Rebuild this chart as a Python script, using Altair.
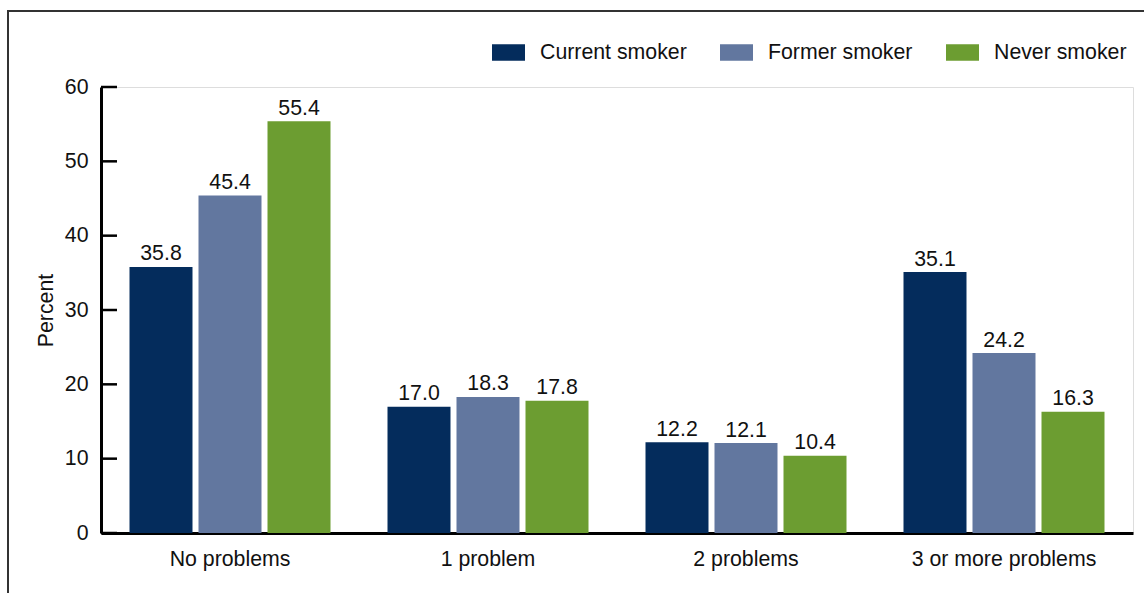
import altair as alt
import pandas as pd

categories = ["No problems", "1 problem", "2 problems", "3 or more problems"]
series = ["Current smoker", "Former smoker", "Never smoker"]
current = [35.8, 17.0, 12.2, 35.1]
former = [45.4, 18.3, 12.1, 24.2]
never = [55.4, 17.8, 10.4, 16.3]
colors = ["#042c5c", "#62779f", "#6c9d31"]
y_ticks = [0, 10, 20, 30, 40, 50, 60]

rows = []
for s, vals in zip(series, [current, former, never]):
    for c, v in zip(categories, vals):
        rows.append({"category": c, "series": s, "value": v, "label": f"{v:.1f}"})
df = pd.DataFrame(rows)
ticks_df = pd.DataFrame({"value": y_ticks})
frame_df = pd.DataFrame({"a": [0]})

FONT = "Liberation Sans"
FS = 21.3

x = alt.X(
    "category:N",
    sort=categories,
    scale=alt.Scale(paddingInner=0, paddingOuter=0),
    axis=alt.Axis(
        title=None, labelAngle=0, ticks=False, domainWidth=3, domainColor="black",
        labelFontSize=FS, labelPadding=15, labelColor="#111", labelFont=FONT,
        labelLimit=0,
    ),
)
xo = alt.XOffset(
    "series:N", sort=series, scale=alt.Scale(paddingInner=0.087, paddingOuter=0.413)
)
y = alt.Y(
    "value:Q",
    scale=alt.Scale(domain=[0, 60], nice=False),
    axis=alt.Axis(
        title="Percent", values=y_ticks, ticks=False, grid=False, domainWidth=3,
        domainColor="black", labelFontSize=FS, labelPadding=13, labelColor="#111",
        labelFont=FONT, titleFontSize=FS, titleFontWeight="normal", titleFont=FONT,
        titleColor="#111", titlePadding=8,
    ),
)

bars = alt.Chart(df).mark_bar().encode(
    x=x,
    xOffset=xo,
    y=y,
    color=alt.Color(
        "series:N",
        sort=series,
        scale=alt.Scale(domain=series, range=colors),
        legend=alt.Legend(
            title=None, orient="none", direction="horizontal", legendX=391, legendY=-51,
            symbolType="M-1,-0.5L1,-0.5L1,0.5L-1,0.5Z", symbolSize=1089,
            symbolStrokeWidth=0, symbolOpacity=1, labelFontSize=FS, labelFont=FONT,
            labelColor="#111", labelOffset=15, columnPadding=33, labelLimit=0,
        ),
    ),
)

labels = alt.Chart(df).mark_text(
    baseline="alphabetic", dy=-6.5, fontSize=FS, font=FONT, color="#111"
).encode(x=x, xOffset=xo, y=y, text="label:N")

tick_rules = alt.Chart(ticks_df).mark_rule(color="black", strokeWidth=2.5).encode(
    y=y, x=alt.value(0), x2=alt.value(16)
)

frame = alt.Chart(frame_df).mark_rect(
    fillOpacity=0, stroke="#333", strokeWidth=2
).encode(x=alt.value(-93), x2=alt.value(1300), y=alt.value(-76), y2=alt.value(800))

chart = (
    alt.layer(frame, bars, labels, tick_rules)
    .properties(
        width=1032,
        height=446,
        autosize=alt.AutoSizeParams(type="none"),
        padding={"left": 101, "top": 87, "right": 11, "bottom": 60},
    )
    .configure_view(stroke=None)
    .configure(font=FONT)
)

chart.save("out.html", embed_options={"renderer": "svg", "actions": False})
